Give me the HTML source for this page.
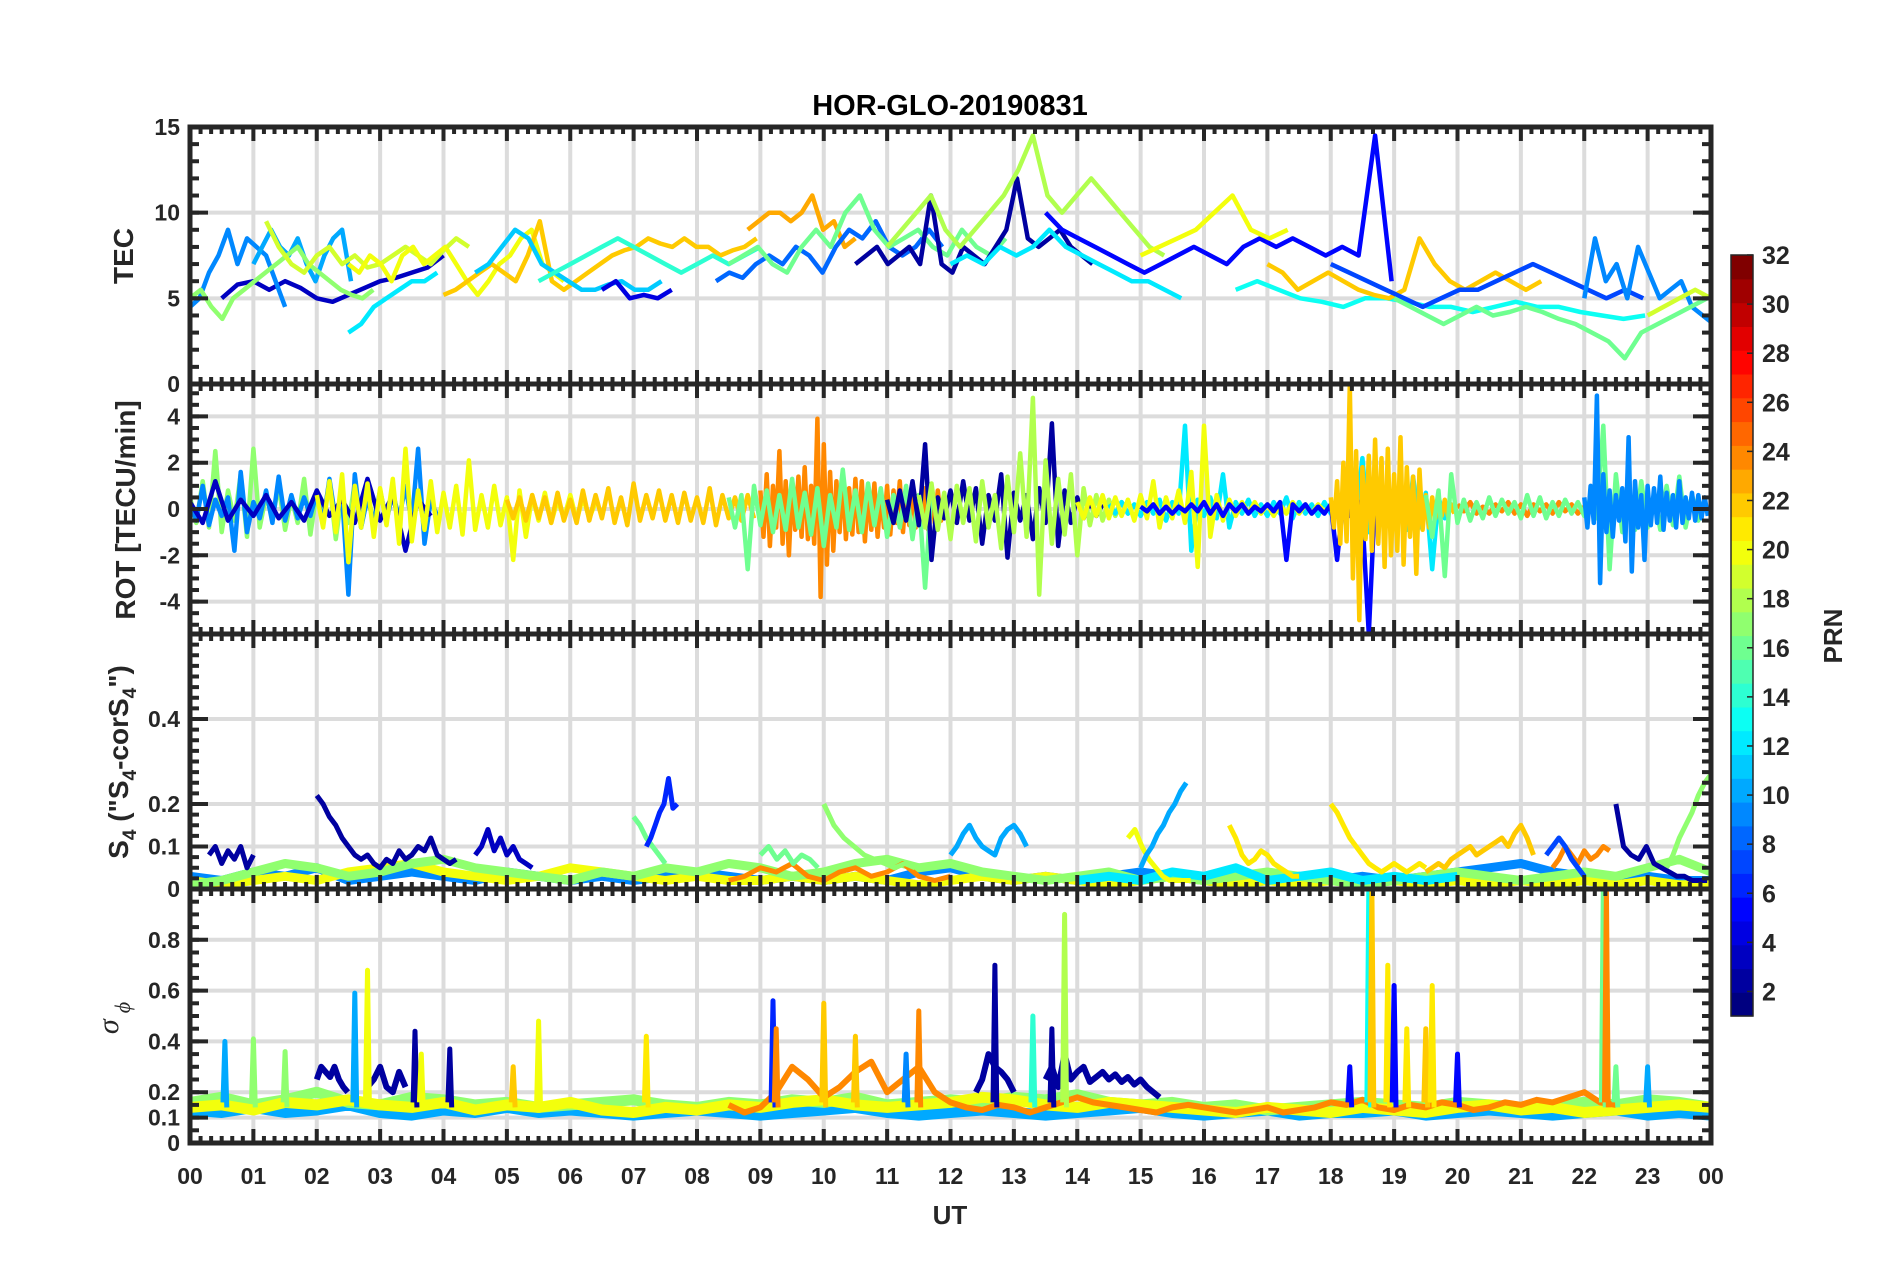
<!DOCTYPE html>
<html><head><meta charset="utf-8">
<style>
html,body{margin:0;padding:0;background:#fff;}
svg{display:block;font-family:"Liberation Sans",Arial,sans-serif;font-weight:bold;}
</style></head>
<body>
<svg id="chart" width="1902" height="1272" viewBox="0 0 1902 1272" xmlns="http://www.w3.org/2000/svg">
<text x="950" y="115" text-anchor="middle" font-size="29" fill="#000">HOR-GLO-20190831</text>
<text x="950" y="1224" text-anchor="middle" font-size="26" fill="#262626">UT</text>
<text transform="translate(133,256) rotate(-90)" text-anchor="middle" font-size="28" fill="#262626">TEC</text>
<text transform="translate(135,510) rotate(-90)" text-anchor="middle" font-size="28" fill="#262626">ROT [TECU/min]</text>
<text transform="translate(128,762) rotate(-90)" text-anchor="middle" font-size="28" fill="#262626">S<tspan font-size="19" dy="8">4</tspan><tspan dy="-8"> ("S</tspan><tspan font-size="19" dy="8">4</tspan><tspan dy="-8">-corS</tspan><tspan font-size="19" dy="8">4</tspan><tspan dy="-8">")</tspan></text>
<text transform="translate(118,1018) rotate(-90)" text-anchor="middle" font-size="30" font-style="italic" font-weight="normal" fill="#262626" font-family="Liberation Serif, serif">σ<tspan font-size="22" dy="12" dx="6">ϕ</tspan></text>
<text transform="translate(1842,636) rotate(-90)" text-anchor="middle" font-size="26" fill="#262626">PRN</text>
</svg>
<script>
// ---------- data ----------
var hourLabels = ["00","01","02","03","04","05","06","07","08","09","10","11","12","13","14","15","16","17","18","19","20","21","22","23","00"];
var cbTicks = [2,4,6,8,10,12,14,16,18,20,22,24,26,28,30,32];

var tecPrn   = [3,9,10,17,19,12,20,22,11,4,14,23,8,16,2,18,12,5,20,13,22,7,9,16,19];
var tecStart = [0.5,0,1,0,1.2,2.5,2.5,4,4.5,6.5,5.5,8.8,8.3,8.5,10.5,11,12,13.5,15,16.5,17,18,22,19,23];
var tecStep  = [0.25,0.15,0.14,0.17,0.2,0.2,0.17,0.19,0.21,0.22,0.25,0.17,0.21,0.23,0.17,0.23,0.26,0.26,0.29,0.34,0.24,0.29,0.17,0.26,0.25];
var tecValues = [
 [5,5.8,6,5.5,6,5.6,5,4.8,5.2,5.6,6,6.2,6.5,6.8,7.5],
 [4.5,5,6.5,7.5,9,7,8.5,8,7.5,6,4.5],
 [7,8,9,8,7.5,8.5,7,6,7.5,8.5,9,6],
 [5,5.5,4.5,3.8,5,5.5,6,6.5,7,7.5,8,7,6.5,6,5.5,5.2,5,5.5],
 [9.5,8,7,6.5,7.5,8,7,7.5,6.8,7,7.5,8,7.5,7,7.8,8.5,8],
 [3,3.5,4.5,5,5.5,6,6,6.5],
 [7,6.5,7.5,7,6,7.5,8,7,7.5,8,7,6,5.2,6,7,7.5,8.5,9,7,6.5,6],
 [5.2,5.5,6,6.5,7,6.5,6,7.5,9.5,6,5.5,6,6.5,7,7.5,7.8,8,8.5,8.2,8,8.5,8,8,7.5,7.8,8,8.5],
 [6.5,7,8,9,8.5,7,6.5,6,5.5,5.5,5.8,6,5.5,5.5,6],
 [5.5,6,5,5.2,5,5.5],
 [6,6.5,7,7.5,8,8.5,8,7.5,7,6.5,7,7.5,7,7.5,8],
 [9,9.5,10,10,9.5,10,11,9,9.5,8,8.5],
 [6,6.5,6.2,7,7.5,7,8,7.5,6.5,8,9,8.5,9.5,8,7.5,8,9,8],
 [7,7.5,8,7,6.5,8,9,8,10,11,9,8,8.5,9,8,7.5,9,8,7.5,8.5],
 [7,7.5,8,7,7.5,8,7,11,7,6.5,8,7.5,7,8,9,12,8.5,8,8.5,9,8,7.5,7],
 [8,9,10,11,9,8,9,10,11,12.5,14.5,11,10,11,12,11,10,9,8,7.5],
 [7,7.5,7,8,7.5,8,9,8,7.5,7,6.5,6,6,5.5,5],
 [10,9,8.5,8,7.5,7,6.5,7,7.5,8,7.5,7,8,8.5,8,8.5,8,7.5,8,7.5,14.5,6],
 [7.5,8,8.5,9,10,11,9,8.5,9],
 [5.5,6,5.5,5,4.8,4.5,5,5,4.8,4.5,4.5,4.2,4.5,4.8,4.5,4.5,4.2,4,3.8,4],
 [7,6.5,5.5,6,6.5,6,5.5,5.2,5,5.5,8.5,7,6,5.5,6,6.5,6,5.5,6],
 [7,6.5,6,5.5,5,4.5,5,5.5,5.5,6,6.5,7,6.5,6,5.5,5,5.5,5],
 [5,8.5,6,7,5,8,6.5,5,5.5,6,4.5,4,3.5],
 [5,4.5,4,3.5,4,4.5,4,4.2,4.5,4.2,3.8,3.5,3,2.5,1.5,3,3.5,4,4.5,5],
 [4,4.5,5,5.5,5]
];

var rotPrn   = [17,9,3,20,22,24,16,2,18,12,20,5,22,24,16,9];
var rotStart = [0,0,0,2,5,9,8.5,11,11.5,14.5,14,15,18,20,19.5,22];
var rotStep  = [0.1,0.1,0.2,0.1,0.1,0.05,0.1,0.1,0.1,0.1,0.1,0.1,0.05,0.1,0.1,0.05];
var rotValues = [
 [0.5,-0.6,1.2,-0.8,2.5,-1,0.8,-0.5,1.5,-1.2,2.6,-0.8,0.6,-0.4,1,-0.9,0.5,-0.6,1.3,-1.1,0.8,-0.5,1.2,-1.3,0.7,-0.6,1.1,-0.8,0.6,-0.5],
 [0.3,-0.5,1,-0.7,0.4,-0.3,0.5,-1.8,1.6,-1,0.3,-0.4,0.8,-0.6,1.4,-0.5,0.6,-0.4,0.5,-0.3,0.7,-0.6,1.3,-0.5,0.6,-3.7,1.5,-0.8,0.5,-0.6,0.8,-0.5,0.7,-0.4,1,-0.6,2.6,-1.5,0.4,-0.3],
 [0.3,-0.6,1.2,-0.5,0.4,-0.3,0.6,-0.4,0.3,-0.5,0.8,-0.3,0.4,-0.6,1.3,-0.5,0.6,-1.8,0.4,-0.3],
 [0.6,-0.8,1.2,-1,1.5,-2.3,1,-0.8,1.1,-1.2,0.9,-0.7,1.3,-1.5,2.6,-1.4,0.8,-0.9,1.2,-1,0.7,-0.8,1,-1.1,2.1,-0.9,0.6,-0.8,1,-0.7,0.5,-2.2,0.8,-1.2,0.6,-0.5,0.7,-0.6,0.4,-0.4,0.6,-0.5,0.5,-0.4,0.3],
 [0.4,-0.4,0.5,-0.5,0.6,-0.4,0.5,-0.6,0.7,-0.5,0.4,-0.6,0.8,-0.5,0.6,-0.4,0.9,-0.6,0.5,-0.7,1.1,-0.5,0.6,-0.4,0.8,-0.5,0.6,-0.6,0.7,-0.5,0.5,-0.6,0.9,-0.7,0.6,-0.4,0.5,-0.5,0.6,-0.4],
 [0.8,-1.2,1.5,-1.6,1.0,-0.8,2.5,-1.5,1.2,-2.0,1.1,-0.9,1.4,-1.2,1.8,-1.3,1.0,-1.5,3.9,-3.8,2.8,-2.4,1.6,-1.8,1.2,-1.0,1.5,-1.3,0.9,-1.1,1.3,-1.0,1.2,-1.4,0.8,-0.9,1.1,-1.2,0.7,-0.8,1.0,-1.1,0.8,-0.6,1.2,-1.0,0.9,-0.7,1.1,-0.8,0.6,-0.5,0.9,-0.9,0.7,-0.6,0.8,-0.5,0.4,-0.3],
 [0.5,-0.8,0.6,-2.6,1,-0.7,0.8,-1,0.6,-0.9,1.3,-0.8,0.7,-1.1,0.9,-1.6,0.6,-0.8,1.7,-0.9,0.8,-1,1.1,-0.7,0.9,-1.2,0.6,-0.8,1,-1.3,0.6,-3.4,0.8,-0.6,0.5],
 [0.4,-0.6,0.8,-0.5,1.2,-0.7,2.8,-2.2,0.5,-0.4,0.8,-0.6,1.2,-0.5,0.9,-1.5,0.6,-0.5,1.5,-2.1,0.7,-0.5,0.6,-1.3,0.9,-0.6,3.7,-1.6,0.8,-0.6,0.5,-0.4,0.3,-0.3,0.2],
 [0.6,-0.8,1.1,-0.9,0.7,-1.3,1,-0.6,0.9,-1.4,1.2,-0.8,0.6,-1.7,1.4,-1,2.4,-1.2,4.8,-3.7,2.1,-1.5,1.3,-1.1,1.5,-2,0.9,-0.7,0.6,-0.5,0.4,-0.3,0.3,-0.2,0.2],
 [0.2,-0.2,0.3,-0.2,0.2,-0.3,0.3,-0.2,0.4,-0.5,0.3,-0.2,3.6,-1.8,0.4,-0.3,0.5,-0.4,1.5,-0.8,0.3,-0.2,0.4,-0.3,0.2,-0.3,0.3,-0.2,0.5,-0.4,0.3,-0.2,0.2,-0.3,0.3,-0.2,0.4,-0.3,0.2,-0.2,2.2,-1.0,0.8,-0.6,0.5,-0.7,0.6,-0.9,1.4,-0.8,0.7,-2.6,0.5,-0.4,0.3],
 [0.3,-0.4,0.5,-0.3,0.6,-0.4,0.5,-0.3,0.4,-0.5,0.6,-0.4,1.2,-0.8,0.5,-0.4,0.8,-0.6,1.6,-2.5,3.6,-1.2,0.6,-0.5,0.4,-0.3,0.3,-0.2,0.3,-0.2,0.2,-0.3,0.2,-0.2,0.3,-0.2,0.2,-0.2,0.2,-0.1],
 [0.1,-0.1,0.2,-0.2,0.1,-0.2,0.1,-0.1,0.2,-0.1,0.3,-0.2,0.2,-0.3,0.2,-0.1,0.2,-0.2,0.1,-0.1,0.2,-0.1,0.3,-2.2,0.2,-0.1,0.2,-0.2,0.1,-0.2,0.2,-2.2,0.4,-0.3,0.5,-0.4,-5.4,0.6,-0.5,0.3],
 [0.5,-0.8,1.2,-1.5,2,-1.4,5.4,-3,2.5,-4.8,1.8,-1.3,2.3,-1.8,3,-1.5,2.2,-2.5,2.6,-2,1.5,-1.8,3.1,-2.4,1.8,-1.2,1.4,-2.8,1.7,-0.9,0.6,-0.8,0.5,-0.4,0.3,-0.3,0.4,-0.3,0.2,-0.2],
 [0.2,-0.1,0.3,-0.2,0.1,-0.2,0.2,-0.1,0.3,-0.2,0.2,-0.3,0.2,-0.1,0.2,-0.2,0.3,-0.1,0.2,-0.2,0.1,-0.1,0.2],
 [0.6,-1.2,0.8,-2.9,1.5,-0.6,0.4,-0.5,0.3,-0.4,0.5,-0.3,0.4,-0.2,0.3,-0.4,0.6,-0.3,0.5,-0.4,0.3,-0.3,0.4,-0.2,0.3,-0.3,0.5,-0.4,3.6,-2.6,1.5,-1,0.8,-0.9,1.2,-0.8,0.6,-0.9,1,-0.7,1.4,-0.8,0.6,-0.5,0.4],
 [0.5,-0.8,1,-0.6,4.9,-3.2,1.5,-1,0.8,-1.2,0.6,-0.5,0.9,-1.4,3.1,-2.7,1.2,-0.8,0.6,-2.2,1,-0.7,0.9,-0.6,1.4,-0.9,0.7,-0.5,0.6,-0.8,1.2,-0.6,0.5,-0.4,0.7,-0.5,0.6,-0.4,0.5,-0.3]
];

var s4Prn   = [9,20,17,24,12,2,2,3,16,6,16,17,10,20,10,21,21,22,24,7,2,17];
var s4Start = [0,0,0,8.5,14,0.3,2,4.5,7,7.2,9,10,12,14.8,15,16.4,18,19.5,21.5,21.4,22.5,23.3];
var s4Step  = [0.5,0.5,0.5,0.25,0.5,0.1,0.1,0.1,0.1,0.07,0.13,0.16,0.1,0.11,0.09,0.1,0.1,0.1,0.1,0.1,0.12,0.1];
var s4Values = [
 [.03,.02,.04,.03,.05,.02,.03,.04,.03,.02,.04,.03,.02,.03,.02,.03,.04,.03,.02,.03,.02,.03,.02,.04,.05,.03,.02,.03,.02,.03,.04,.03,.02,.01,.02,.03,.02,.03,.02,.03,.04,.05,.06,.04,.03,.02,.03,.02,.02],
 [.02,.01,.02,.03,.02,.04,.05,.06,.04,.03,.02,.03,.05,.04,.03,.02,.03,.02,.02,.03,.02,.03,.02,.01,.02,.03,.02,.03,.02,.01,.02,.03,.02,.01,.02,.01,.02,.01,.02,.01,.02,.01,.02,.01,.02,.01,.02,.01,.01],
 [.01,.02,.04,.06,.05,.03,.04,.06,.07,.05,.04,.03,.02,.04,.03,.05,.04,.06,.05,.03,.04,.06,.07,.05,.06,.04,.03,.02,.03,.04,.02,.03,.02,.03,.04,.03,.02,.01,.02,.03,.04,.03,.02,.03,.04,.03,.05,.07,.04],
 [.02,.03,.05,.04,.06,.03,.02,.04,.05,.03,.04,.06,.03,.02,.03],
 [.02,.03,.02,.04,.03,.05,.02,.03,.04,.02,.03,.02,.03],
 [.08,.1,.06,.09,.07,.1,.05,.08],
 [.22,.2,.17,.15,.12,.1,.08,.07,.08,.06,.05,.07,.06,.09,.07,.08,.1,.09,.12,.08,.07,.06,.07],
 [.08,.1,.14,.09,.12,.08,.1,.07,.06,.05],
 [.17,.15,.12,.1,.08,.06],
 [.1,.12,.15,.18,.2,.26,.19,.2],
 [.08,.1,.07,.09,.06,.08,.07,.05],
 [.2,.15,.12,.1,.08,.07,.06,.05,.06,.05],
 [.08,.1,.13,.15,.12,.1,.09,.08,.12,.14,.15,.13,.1],
 [.12,.14,.1,.07,.05,.03,.02,.02,.02,.02],
 [.05,.08,.1,.13,.15,.18,.2,.23,.25],
 [.15,.12,.08,.06,.07,.09,.08,.06,.05,.04,.03,.03],
 [.2,.18,.15,.12,.1,.08,.06,.05,.04,.05,.06,.05,.04,.05,.06,.05],
 [.04,.05,.06,.05,.07,.08,.09,.1,.08,.09,.1,.11,.12,.1,.13,.15,.12,.08],
 [.05,.07,.1,.08,.06,.09,.07,.08,.1,.09],
 [.08,.1,.12,.1,.07,.05,.03],
 [.2,.1,.08,.07,.1,.06,.05,.04,.03,.03,.02,.02,.02],
 [.05,.08,.12,.15,.18,.22,.25,.27]
];

var sigPrn   = [10,17,20,24,2,2,2,2];
var sigStart = [0,0,0,8.5,2,2.8,12.4,13.5];
var sigStep  = [0.5,0.5,0.5,0.25,0.07,0.1,0.1,0.1];
var sigValues = [
 [.13,.12,.14,.12,.13,.15,.12,.11,.13,.12,.14,.12,.13,.12,.11,.12,.13,.12,.11,.12,.13,.14,.12,.11,.12,.13,.12,.11,.12,.13,.14,.12,.11,.12,.13,.11,.12,.12,.13,.11,.12,.13,.12,.11,.12,.13,.11,.12,.11],
 [.16,.18,.15,.17,.2,.16,.15,.18,.17,.15,.16,.14,.15,.16,.17,.15,.14,.16,.15,.17,.16,.18,.15,.16,.17,.16,.18,.17,.19,.16,.15,.16,.14,.15,.13,.14,.15,.16,.15,.14,.16,.15,.14,.15,.16,.15,.17,.16,.14],
 [.14,.15,.13,.16,.15,.17,.15,.14,.16,.13,.15,.14,.16,.13,.12,.14,.13,.15,.14,.16,.17,.15,.14,.15,.16,.18,.17,.15,.14,.16,.15,.14,.13,.12,.14,.13,.12,.14,.13,.12,.14,.15,.13,.14,.12,.13,.14,.15,.14],
 [.15,.12,.14,.2,.3,.25,.18,.22,.28,.32,.2,.25,.3,.2,.16,.14,.13,.15,.14,.12,.14,.16,.18,.16,.15,.14,.13,.12,.14,.15,.14,.13,.12,.13,.14,.12,.13,.14,.16,.15,.17,.14,.13,.15,.14,.16,.15,.13,.14,.16,.15,.17,.16,.18,.2,.16,.15],
 [.25,.3,.28,.26,.3,.25,.22,.2],
 [.22,.25,.3,.22,.2,.28,.22],
 [.2,.25,.35,.3,.28,.25,.2],
 [.25,.3,.22,.35,.25,.28,.3,.24,.26,.28,.25,.27,.24,.26,.23,.25,.22,.2,.18]
];
var spikeTimes = [0.55,1.0,1.5,2.6,2.8,3.55,3.65,4.1,5.5,5.1,7.2,9.2,9.25,10.0,10.5,11.5,11.3,12.7,13.3,13.8,13.6,18.3,18.6,18.65,18.9,19.0,19.2,19.5,19.6,20.0,22.3,22.35,22.5,23.0];
var spikePeaks = [0.4,0.41,0.36,0.59,0.68,0.44,0.35,0.37,0.48,0.3,0.42,0.56,0.45,0.55,0.42,0.52,0.35,0.7,0.5,0.9,0.45,0.3,1.0,1.0,0.7,0.62,0.45,0.45,0.62,0.35,1.0,1.0,0.3,0.3];
var spikePrn   = [10,17,17,10,20,2,20,2,20,22,21,6,24,22,22,24,9,2,14,18,2,5,13,22,21,5,21,22,21,5,16,24,16,10];

// ---------- rendering ----------
var NS = "http://www.w3.org/2000/svg";
var svg = document.getElementById("chart");
var X0 = 190, X1 = 1711;
function xs(h){ return X0 + (X1 - X0) * h / 24; }
function jet(p){
  var x = (p - 1) / 31;
  function c(v){ return Math.max(0, Math.min(1, v)); }
  var r = c(1.5 - Math.abs(4*x - 3)), g = c(1.5 - Math.abs(4*x - 2)), b = c(1.5 - Math.abs(4*x - 1));
  return "rgb(" + Math.round(r*255) + "," + Math.round(g*255) + "," + Math.round(b*255) + ")";
}
function el(tag, attrs, parent){
  var e = document.createElementNS(NS, tag);
  for (var k in attrs) e.setAttribute(k, attrs[k]);
  (parent || svg).appendChild(e);
  return e;
}
var panels = [
  {key:"tec", top:127, bot:384, min:0, max:15, ticks:[0,5,10,15], minor:1, labels:["0","5","10","15"]},
  {key:"rot", top:384, bot:634, min:-5.4, max:5.4, ticks:[-4,-2,0,2,4], minor:0.5, labels:["-4","-2","0","2","4"]},
  {key:"s4", top:634, bot:889, min:0, max:0.6, ticks:[0,0.1,0.2,0.4], minor:0.025, labels:["0","0.1","0.2","0.4"]},
  {key:"sig", top:889, bot:1143, min:0, max:1, ticks:[0,0.1,0.2,0.4,0.6,0.8], minor:0.05, labels:["0","0.1","0.2","0.4","0.6","0.8"]}
];
function ys(p, v){ return p.bot - (v - p.min) / (p.max - p.min) * (p.bot - p.top); }
var defs = el("defs", {});
panels.forEach(function(p){
  var cp = el("clipPath", {id:"clip-" + p.key}, defs);
  el("rect", {x:X0, y:p.top, width:X1-X0, height:p.bot-p.top}, cp);
});
function drawSeries(p, g, prn, start, step, vals, w){
  var pts = vals.map(function(v, i){ return xs(start + i*step).toFixed(1) + "," + ys(p, v).toFixed(1); }).join(" ");
  var pl = el("polyline", {points:pts, fill:"none", stroke:jet(prn), "stroke-width":w || 4.5, "stroke-linejoin":"round"}, g);
  
  
}
panels.forEach(function(p, pi){
  var ax = el("g", {});
  
  
  for (var h = 1; h < 24; h++) {
    el("line", {x1:xs(h), x2:xs(h), y1:p.top, y2:p.bot, stroke:"#dcdcdc", "stroke-width":4}, ax);
  }
  p.ticks.forEach(function(t){
    if (t > p.min && t < p.max) el("line", {x1:X0, x2:X1, y1:ys(p,t), y2:ys(p,t), stroke:"#dcdcdc", "stroke-width":4}, ax);
  });
  var g = el("g", {"clip-path":"url(#clip-" + p.key + ")"}, ax);
  
  
  if (p.key === "tec") tecValues.forEach(function(v,i){ drawSeries(p, g, tecPrn[i], tecStart[i], tecStep[i], v, 4.5); });
  if (p.key === "rot") rotValues.forEach(function(v,i){ drawSeries(p, g, rotPrn[i], rotStart[i], rotStep[i], v, 4.5); });
  if (p.key === "s4") s4Values.forEach(function(v,i){ drawSeries(p, g, s4Prn[i], s4Start[i], s4Step[i], v, s4Step[i] >= 0.5 ? 9 : 5); });
  if (p.key === "sig") {
    sigValues.forEach(function(v,i){ drawSeries(p, g, sigPrn[i], sigStart[i], sigStep[i], v, sigStep[i] >= 0.5 ? 11 : 6); });
    spikeTimes.forEach(function(t,i){
      drawSeries(p, g, spikePrn[i], t - 0.03, 0.03, [0.16, spikePeaks[i], 0.14], 5);
    });
  }
  var tk = "#262626";
  for (var m = 0; m <= 144; m++) {
    var x = xs(m/6), major = (m % 6 === 0), L = major ? 14 : 7;
    el("line", {x1:x, x2:x, y1:p.top, y2:p.top + L, stroke:tk, "stroke-width":4}, ax);
    el("line", {x1:x, x2:x, y1:p.bot, y2:p.bot - L, stroke:tk, "stroke-width":4}, ax);
  }
  var first = Math.ceil(p.min / p.minor);
  for (var k = first; k * p.minor <= p.max + 1e-9; k++) {
    var y = ys(p, k * p.minor);
    el("line", {x1:X0, x2:X0 + 9, y1:y, y2:y, stroke:tk, "stroke-width":4}, ax);
    el("line", {x1:X1, x2:X1 - 9, y1:y, y2:y, stroke:tk, "stroke-width":4}, ax);
  }
  p.ticks.forEach(function(t, i){
    var y = ys(p, t);
    el("line", {x1:X0, x2:X0 + 18, y1:y, y2:y, stroke:tk, "stroke-width":4}, ax);
    el("line", {x1:X1, x2:X1 - 18, y1:y, y2:y, stroke:tk, "stroke-width":4}, ax);
    var tx = el("text", {x:180, y:y + 8, "text-anchor":"end", "font-size":23, fill:"#262626"}, ax);
    tx.textContent = p.labels[i];
    
    
  });
  el("rect", {x:X0, y:p.top, width:X1-X0, height:p.bot-p.top, fill:"none", stroke:tk, "stroke-width":5}, ax);
});
hourLabels.forEach(function(l, i){
  var t = el("text", {x:xs(i), y:1184, "text-anchor":"middle", "font-size":23, fill:"#262626"});
  t.textContent = l;
  
  
});
var cb = el("g", {});


var CT = 255, CB = 1016, CX = 1731, CW = 22;
function cy(v){ return CB - (v - 1) / 31 * (CB - CT); }
for (var p = 1; p <= 32; p++) {
  var y0 = CB - (p - 1) * (CB - CT) / 32;
  el("rect", {x:CX, y:(y0 - (CB - CT)/32).toFixed(1), width:CW, height:((CB - CT)/32 + 0.6).toFixed(1), fill:jet(p)}, cb);
}
el("rect", {x:CX, y:CT, width:CW, height:CB-CT, fill:"none", stroke:"#262626", "stroke-width":1.5}, cb);
cbTicks.forEach(function(v){
  var y = cy(v);
  el("line", {x1:CX + CW - 6, x2:CX + CW, y1:y, y2:y, stroke:"#262626", "stroke-width":1.5}, cb);
  var t = el("text", {x:1762, y:y + 9, "font-size":25, fill:"#262626"}, cb);
  t.textContent = v;
  
  
});
</script>
</body></html>
